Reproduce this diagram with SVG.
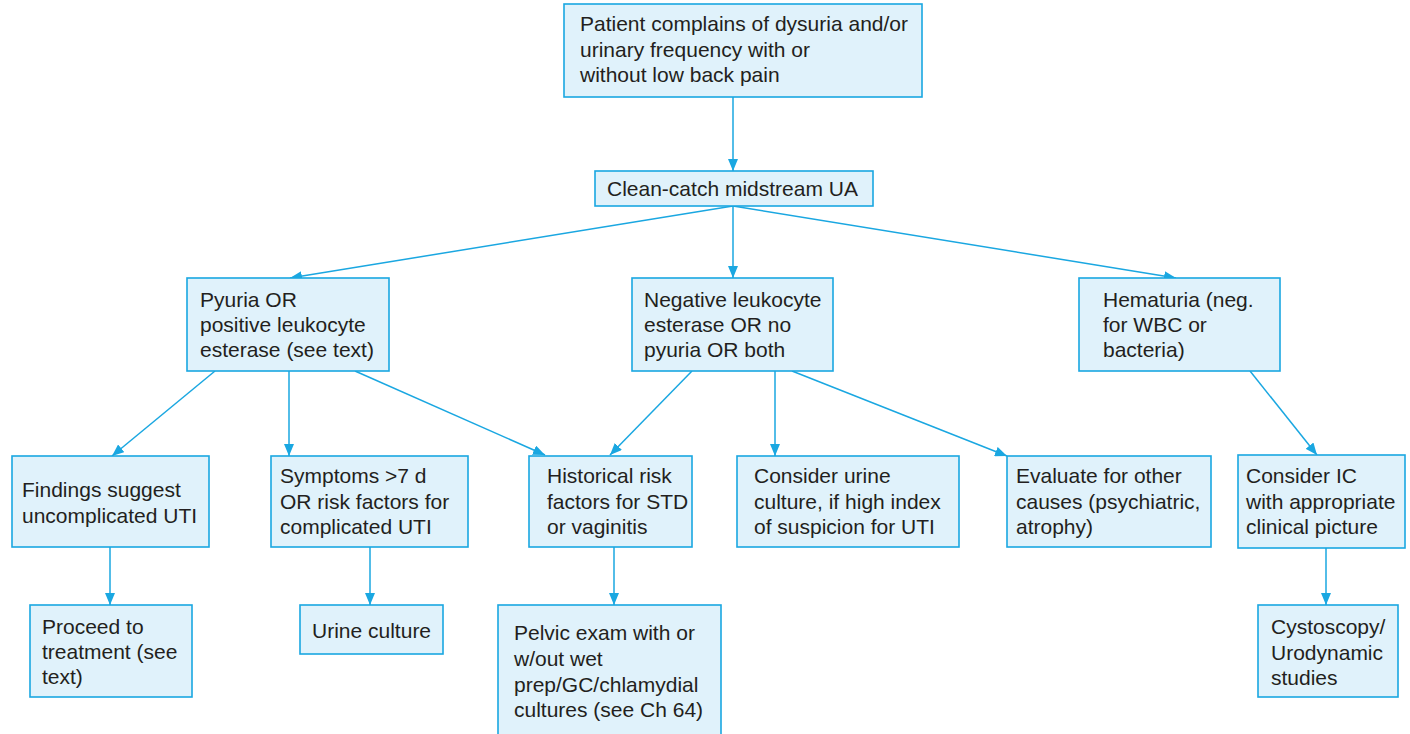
<svg xmlns="http://www.w3.org/2000/svg" width="1410" height="734" viewBox="0 0 1410 734">
<defs>
<style>
.box{fill:#e0f2fb;stroke:#1aa7e1;stroke-width:1.6}
.t{font-family:"Liberation Sans",Arial,sans-serif;font-size:21px;fill:#231f20}
.c{stroke:#1aa7e1;stroke-width:1.5;fill:none;marker-end:url(#ah)}
</style>
<marker id="ah" viewBox="0 0 12 10" refX="12" refY="5" markerWidth="12" markerHeight="10" markerUnits="userSpaceOnUse" orient="auto">
<path d="M0,0 L12,5 L0,10 Z" fill="#1aa7e1"/>
</marker>
</defs>
<rect width="1410" height="734" fill="#ffffff"/>
<g id="connectors">
<line class="c" x1="733" y1="97" x2="733" y2="171"/>
<line class="c" x1="733" y1="206" x2="290" y2="278"/>
<line class="c" x1="733" y1="206" x2="733" y2="278"/>
<line class="c" x1="733" y1="206" x2="1176" y2="278"/>
<line class="c" x1="215" y1="371" x2="112" y2="456"/>
<line class="c" x1="289" y1="371" x2="289" y2="456"/>
<line class="c" x1="355" y1="371" x2="545" y2="455"/>
<line class="c" x1="692" y1="371" x2="610" y2="455"/>
<line class="c" x1="775" y1="371" x2="775" y2="456"/>
<line class="c" x1="792" y1="371" x2="1007" y2="456"/>
<line class="c" x1="1250" y1="371" x2="1317" y2="455"/>
<line class="c" x1="110" y1="547" x2="110" y2="605"/>
<line class="c" x1="370" y1="547" x2="370" y2="605"/>
<line class="c" x1="614" y1="547" x2="614" y2="605"/>
<line class="c" x1="1326" y1="548" x2="1326" y2="605"/>
</g>
<g id="n1"><rect class="box" x="564" y="4" width="358" height="93"/>
<text class="t"><tspan x="580" y="31">Patient complains of dysuria and/or</tspan><tspan x="580" y="57">urinary frequency with or</tspan><tspan x="580" y="82">without low back pain</tspan></text></g>
<g id="n2"><rect class="box" x="595" y="171" width="278" height="35"/>
<text class="t" x="607" y="196">Clean-catch midstream UA</text></g>
<g id="n3"><rect class="box" x="187" y="278" width="202" height="93"/>
<text class="t"><tspan x="200" y="307">Pyuria OR</tspan><tspan x="200" y="332">positive leukocyte</tspan><tspan x="200" y="357">esterase (see text)</tspan></text></g>
<g id="n4"><rect class="box" x="632" y="278" width="201" height="93"/>
<text class="t"><tspan x="644" y="307">Negative leukocyte</tspan><tspan x="644" y="332">esterase OR no</tspan><tspan x="644" y="357">pyuria OR both</tspan></text></g>
<g id="n5"><rect class="box" x="1079" y="278" width="201" height="93"/>
<text class="t"><tspan x="1103" y="307">Hematuria (neg.</tspan><tspan x="1103" y="332">for WBC or</tspan><tspan x="1103" y="357">bacteria)</tspan></text></g>
<g id="n6"><rect class="box" x="12" y="456" width="197" height="91"/>
<text class="t"><tspan x="22" y="497">Findings suggest</tspan><tspan x="22" y="523">uncomplicated UTI</tspan></text></g>
<g id="n7"><rect class="box" x="271" y="456" width="197" height="91"/>
<text class="t"><tspan x="280" y="483">Symptoms &gt;7 d</tspan><tspan x="280" y="509">OR risk factors for</tspan><tspan x="280" y="534">complicated UTI</tspan></text></g>
<g id="n8"><rect class="box" x="529" y="456" width="163" height="91"/>
<text class="t"><tspan x="547" y="483">Historical risk</tspan><tspan x="547" y="509">factors for STD</tspan><tspan x="547" y="534">or vaginitis</tspan></text></g>
<g id="n9"><rect class="box" x="737" y="456" width="222" height="91"/>
<text class="t"><tspan x="754" y="483">Consider urine</tspan><tspan x="754" y="509">culture, if high index</tspan><tspan x="754" y="534">of suspicion for UTI</tspan></text></g>
<g id="n10"><rect class="box" x="1007" y="456" width="204" height="91"/>
<text class="t"><tspan x="1016" y="483">Evaluate for other</tspan><tspan x="1016" y="509">causes (psychiatric,</tspan><tspan x="1016" y="534">atrophy)</tspan></text></g>
<g id="n11"><rect class="box" x="1238" y="455" width="167" height="93"/>
<text class="t"><tspan x="1246" y="483">Consider IC</tspan><tspan x="1246" y="509">with appropriate</tspan><tspan x="1246" y="534">clinical picture</tspan></text></g>
<g id="n12"><rect class="box" x="30" y="605" width="162" height="92"/>
<text class="t"><tspan x="42" y="634">Proceed to</tspan><tspan x="42" y="659">treatment (see</tspan><tspan x="42" y="684">text)</tspan></text></g>
<g id="n13"><rect class="box" x="300" y="605" width="143" height="49"/>
<text class="t" x="312" y="638">Urine culture</text></g>
<g id="n14"><rect class="box" x="498" y="605" width="223" height="131"/>
<text class="t"><tspan x="514" y="640">Pelvic exam with or</tspan><tspan x="514" y="666">w/out wet</tspan><tspan x="514" y="692">prep/GC/chlamydial</tspan><tspan x="514" y="717">cultures (see Ch 64)</tspan></text></g>
<g id="n15"><rect class="box" x="1258" y="605" width="140" height="92"/>
<text class="t"><tspan x="1271" y="634">Cystoscopy/</tspan><tspan x="1271" y="660">Urodynamic</tspan><tspan x="1271" y="685">studies</tspan></text></g>
</svg>
